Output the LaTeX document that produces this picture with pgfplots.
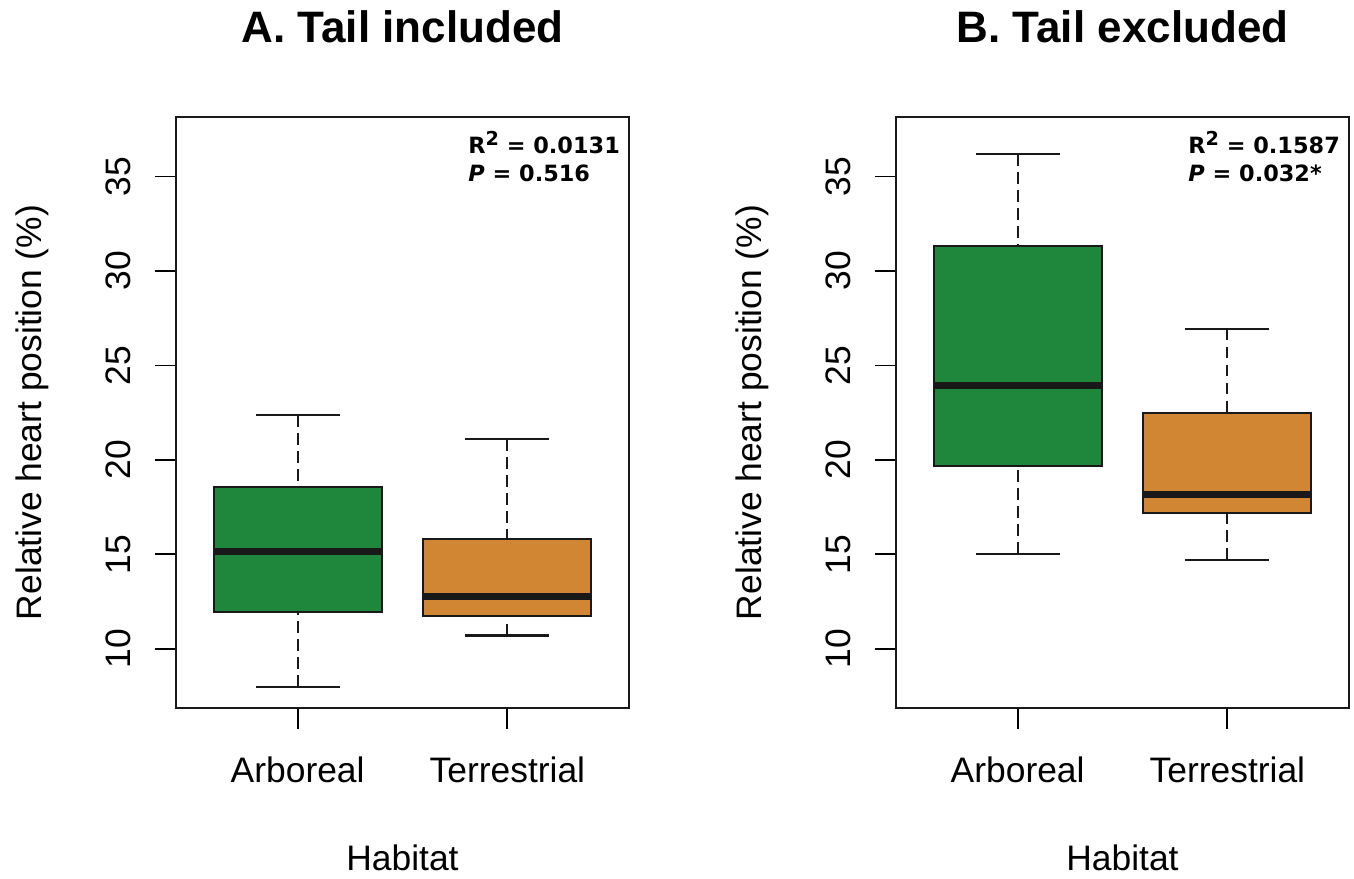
\documentclass[border=0pt]{standalone}
\usepackage{fontspec}
\setmainfont{Liberation Sans}
\newfontfamily\annfont{DejaVu Sans}
\usepackage{pgfplots}
\pgfplotsset{compat=1.18}
\definecolor{boxgreen}{RGB}{31,135,59}
\definecolor{boxorange}{RGB}{209,134,52}
\tikzset{ann/.style={font=\annfont\bfseries\fontsize{11.2}{14}\selectfont, inner sep=0pt, anchor=base west}}
\newcommand{\sq}{\raisebox{0.62ex}{\fontsize{9.6}{10}\selectfont 2}}
\pgfplotsset{
  stem/.style={black!90, line width=1pt, dash pattern=on 5.8pt off 3.2pt},
  cap/.style={black!90, line width=1.1pt},
  bx/.style={draw=black!90, line width=1pt, line join=miter},
  med/.style={black!90, line width=3.6pt},
  mybox/.style={
    scale only axis, width=226.5pt, height=295.5pt,
    xmin=0.42, xmax=2.58, ymin=6.87, ymax=38.15,
    xtick={1,2}, xticklabels={Arboreal,Terrestrial},
    ytick={10,15,20,25,30,35},
    tick align=outside, tick pos=left,
    major tick length=10.5pt,
    every tick/.style={black, line width=0.9pt},
    axis line style={line width=1pt, black!90},
    /pgf/number format/assume math mode=true,
    tick label style={font=\fontsize{17.7}{20}\selectfont},
    yticklabel style={rotate=90, anchor=south, inner sep=0pt},
    yticklabel shift=12pt,
    xticklabel style={anchor=north, inner sep=0pt},
    xticklabel shift=13.5pt,
    xlabel={Habitat},
    xlabel style={at={(axis description cs:0.5,-0.2758)}, anchor=base, font=\fontsize{17.7}{20}\selectfont},
    ylabel={Relative heart position (\%)},
    ylabel style={at={(axis description cs:-0.298,0.5)}, anchor=base, font=\fontsize{17.7}{20}\selectfont},
    title style={at={(axis description cs:0.5,1.1049)}, anchor=base, font=\fontsize{22}{26}\selectfont\bfseries},
  },
}
\begin{document}
\begin{tikzpicture}
\path (0,0) rectangle (677pt,436.5pt);
\begin{axis}[mybox, at={(88pt,82.5pt)}, anchor=south west, title={A. Tail included}]
% Arboreal
\addplot[stem] coordinates {(1,22.36) (1,18.56)};
\addplot[stem] coordinates {(1,8.0) (1,11.97)};
\addplot[cap] coordinates {(0.8,22.36) (1.2,22.36)};
\addplot[cap] coordinates {(0.8,8.0) (1.2,8.0)};
\addplot[bx, fill=boxgreen] coordinates {(0.6,11.97) (1.4,11.97) (1.4,18.56) (0.6,18.56)} -- cycle;
\addplot[med] coordinates {(0.6,15.16) (1.4,15.16)};
% Terrestrial
\addplot[stem] coordinates {(2,21.10) (2,15.79)};
\addplot[stem] coordinates {(2,10.71) (2,11.76)};
\addplot[cap] coordinates {(1.8,21.10) (2.2,21.10)};
\addplot[cap] coordinates {(1.8,10.71) (2.2,10.71)};
\addplot[bx, fill=boxorange] coordinates {(1.6,11.76) (2.4,11.76) (2.4,15.79) (1.6,15.79)} -- cycle;
\addplot[med] coordinates {(1.6,12.75) (2.4,12.75)};
\node[ann] at (rel axis cs:0.6446,0.939) {R\sq{} = 0.0131};
\node[ann] at (rel axis cs:0.6446,0.890) {\textit{P} = 0.516};
\end{axis}
\begin{axis}[mybox, at={(448pt,82.5pt)}, anchor=south west, title={B. Tail excluded}]
% Arboreal
\addplot[stem] coordinates {(1,36.18) (1,31.31)};
\addplot[stem] coordinates {(1,15.02) (1,19.66)};
\addplot[cap] coordinates {(0.8,36.18) (1.2,36.18)};
\addplot[cap] coordinates {(0.8,15.02) (1.2,15.02)};
\addplot[bx, fill=boxgreen] coordinates {(0.6,19.66) (1.4,19.66) (1.4,31.31) (0.6,31.31)} -- cycle;
\addplot[med] coordinates {(0.6,23.94) (1.4,23.94)};
% Terrestrial
\addplot[stem] coordinates {(2,26.94) (2,22.47)};
\addplot[stem] coordinates {(2,14.70) (2,17.18)};
\addplot[cap] coordinates {(1.8,26.94) (2.2,26.94)};
\addplot[cap] coordinates {(1.8,14.70) (2.2,14.70)};
\addplot[bx, fill=boxorange] coordinates {(1.6,17.18) (2.4,17.18) (2.4,22.47) (1.6,22.47)} -- cycle;
\addplot[med] coordinates {(1.6,18.19) (2.4,18.19)};
\node[ann] at (rel axis cs:0.6446,0.939) {R\sq{} = 0.1587};
\node[ann] at (rel axis cs:0.6446,0.890) {\textit{P} = 0.032*};
\end{axis}
\end{tikzpicture}
\end{document}
